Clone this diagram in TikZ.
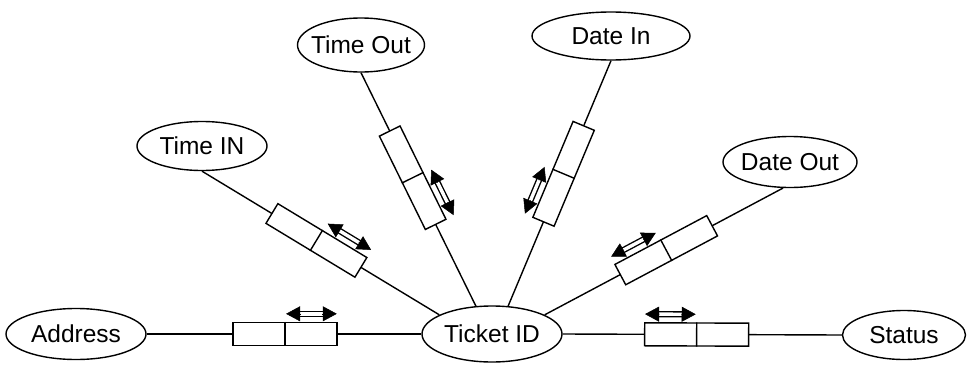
\documentclass[tikz,border=0pt]{standalone}
\usepackage{fontspec}
\setmainfont{Liberation Sans}
\usetikzlibrary{shapes.geometric,arrows.meta,calc}
\tikzset{
  attr/.style={ellipse, draw, line width=1.4pt, inner sep=0pt,
    font=\fontsize{24.5}{28}\selectfont},
  pair/.style={rectangle, draw, fill=white, line width=1.4pt,
    minimum width=104pt, minimum height=23pt, inner sep=0pt,
    sloped, allow upside down},
  spoke/.style={line width=1.4pt},
  shaft/.style={double, double distance=3.4pt, line width=1.4pt,
    shorten <=12pt, shorten >=12pt},
  tip/.style={line width=0.5pt, -{Triangle[length=14pt,width=15pt]}}
}
% zero-width label so the ellipse size comes from the minimum sizes only
\newcommand\lbl[1]{\makebox[0pt]{#1}}
% two-way arrow with a hollow double shaft between two named points
\newcommand\twoway[2]{%
  \draw[shaft] (#1) -- (#2);
  \draw[tip] ($(#1)!14.5pt!(#2)$) -- (#1);
  \draw[tip] ($(#2)!14.5pt!(#1)$) -- (#2);}
% divider between the two halves of a box
\newcommand\halves[1]{\draw[spoke] (#1.north) -- (#1.south);}

\begin{document}
\begin{tikzpicture}[x=1pt,y=-1pt]
\useasboundingbox (0,0) rectangle (969,367);

% attributes
\node[attr, minimum width=140pt, minimum height=51pt] (addr) at (76,334)  {\lbl{Address}};
\node[attr, minimum width=140pt, minimum height=56pt] (tid)  at (492,334) {\lbl{Ticket ID}};
\node[attr, minimum width=123pt, minimum height=49pt] (stat) at (904,335) {\lbl{Status}};
\node[attr, minimum width=130pt, minimum height=49pt] (tin)  at (202,146) {\lbl{Time IN}};
\node[attr, minimum width=127pt, minimum height=54pt] (tout) at (361,45)  {\lbl{Time Out}};
\node[attr, minimum width=158pt, minimum height=48pt] (din)  at (611,36)  {\lbl{Date In}};
\node[attr, minimum width=134pt, minimum height=51pt] (dout) at (790,162) {\lbl{Date Out}};

% left spokes: attribute -> Ticket ID, arrow over the half next to Ticket ID
\draw[spoke] (addr.east) -- (tid.west) node[pair, pos=.504] (a) {};
\halves{a}
\coordinate (ap) at ($(a.north)!-8pt!(a.south)$);
\coordinate (aq) at ($(a.north east)!-8pt!(a.south east)$);
\twoway{$(ap)!1pt!(aq)$}{$(aq)!1pt!(ap)$}

\draw[spoke] (tin.south) -- (tid.160) node[pair, pos=.482] (b) {};
\halves{b}
\coordinate (bp) at ($(b.north)!-8pt!(b.south)$);
\coordinate (bq) at ($(b.north east)!-8pt!(b.south east)$);
\twoway{$(bp)!1pt!(bq)$}{$(bq)!1pt!(bp)$}

\draw[spoke] (tout.south) -- (tid.120) node[pair, pos=.45] (c) {};
\halves{c}
\coordinate (cp) at ($(c.north)!-8pt!(c.south)$);
\coordinate (cq) at ($(c.north east)!-8pt!(c.south east)$);
\twoway{$(cp)!1pt!(cq)$}{$(cq)!1pt!(cp)$}

% right spokes: Ticket ID -> attribute
\draw[spoke] (tid.60) -- (din.south) node[pair, pos=.539] (d) {};
\halves{d}
\coordinate (dp) at ($(d.north west)!-8pt!(d.south west)$);
\coordinate (dq) at ($(d.north)!-8pt!(d.south)$);
\twoway{$(dp)!1pt!(dq)$}{$(dq)!1pt!(dp)$}

\draw[spoke] (tid.20) -- (dout.-105) node[pair, pos=.51] (e) {};
\halves{e}
\coordinate (ep) at ($(e.north west)!-8pt!(e.south west)$);
\coordinate (eq) at ($(e.north)!-8pt!(e.south)$);
\twoway{$(ep)!1pt!(eq)$}{$(eq)!1pt!(ep)$}

\draw[spoke] (tid.east) -- (stat.west) node[pair, pos=.48] (f) {};
\halves{f}
\coordinate (fp) at ($(f.north west)!-8pt!(f.south west)$);
\coordinate (fq) at ($(f.north)!-8pt!(f.south)$);
\twoway{$(fp)!1pt!(fq)$}{$(fq)!1pt!(fp)$}
\end{tikzpicture}
\end{document}
